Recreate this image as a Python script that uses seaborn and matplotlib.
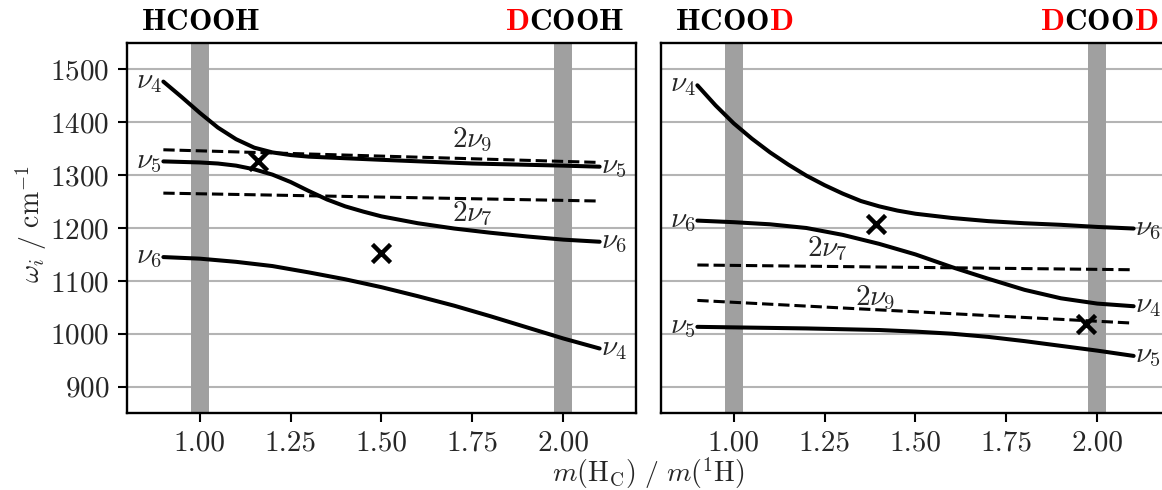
"""
Frequencies of the coupled modes in formic acid isotopologues
versus the mass of the C-bound hydrogen.
"""

import numpy as np
import pandas as pd
import seaborn as sns
import matplotlib

matplotlib.use("Agg")
import matplotlib.pyplot as plt

# ---- data ------------------------------------------------------------------
# left panel: HCOOH -> DCOOH
left_a_x = [0.90, 0.95, 1.00, 1.05, 1.10, 1.15, 1.20, 1.25, 1.30, 1.40, 1.50,
            1.75, 2.00, 2.10]
left_a_y = [1477, 1448, 1418, 1390, 1368, 1352, 1343, 1338, 1335, 1332, 1329,
            1322, 1318, 1316]
left_b_x = [0.90, 1.00, 1.05, 1.10, 1.15, 1.20, 1.25, 1.30, 1.35, 1.40, 1.45,
            1.50, 1.60, 1.70, 1.80, 1.90, 2.00, 2.10]
left_b_y = [1326, 1324, 1322, 1318, 1311, 1301, 1287, 1270, 1254, 1241, 1231,
            1222, 1209, 1199, 1191, 1184, 1178, 1174]
left_c_x = [0.90, 1.00, 1.10, 1.20, 1.30, 1.40, 1.50, 1.60, 1.70, 1.80, 1.90, 2.00, 2.10]
left_c_y = [1145, 1142, 1136, 1128, 1116, 1103, 1088, 1071, 1053, 1033, 1012, 991, 972]
left_dash_x = [0.90, 2.10]
left_2nu9 = [1348, 1324]
left_2nu7 = [1266, 1251]
left_cross_x = [1.16, 1.50]
left_cross_y = [1326, 1153]

# right panel: HCOOD -> DCOOD
right_a_x = [0.90, 0.95, 1.00, 1.05, 1.10, 1.15, 1.20, 1.25, 1.30, 1.35, 1.40,
             1.45, 1.50, 1.60, 1.70, 1.80, 1.90, 2.00, 2.10]
right_a_y = [1470, 1432, 1398, 1369, 1343, 1320, 1299, 1281, 1265, 1251, 1241,
             1233, 1227, 1219, 1213, 1209, 1206, 1202, 1199]
right_b_x = [0.90, 1.00, 1.10, 1.20, 1.30, 1.40, 1.50, 1.60, 1.70, 1.80, 1.90, 2.00, 2.10]
right_b_y = [1214, 1211, 1207, 1200, 1187, 1170, 1150, 1126, 1104, 1083, 1067, 1057, 1052]
right_c_x = [0.90, 1.00, 1.20, 1.40, 1.50, 1.60, 1.70, 1.80, 1.90, 2.00, 2.10]
right_c_y = [1013, 1012, 1010, 1007, 1004, 1000, 994, 986, 977, 968, 958]
right_dash_x = [0.90, 2.10]
right_2nu7 = [1130, 1121]
right_2nu9 = [1063, 1020]
right_cross_x = [1.39, 1.97]
right_cross_y = [1208, 1018]

y_ticks = [900, 1000, 1100, 1200, 1300, 1400, 1500]
x_ticks = [1.00, 1.25, 1.50, 1.75, 2.00]

FS_TICK = 21
FS_LAB = 20
FS_NU = 21
FS_TITLE = 22.5


def setup_axes(ax, show_y):
    ax.set_xlim(0.8, 2.2)
    ax.set_ylim(850, 1550)
    ax.set_xticks(x_ticks)
    ax.set_xticklabels([f"{t:.2f}" for t in x_ticks])
    ax.set_yticks(y_ticks)
    ax.grid(axis="y", color="#b4b4b4", lw=1.5, zorder=0)
    ax.grid(axis="x", visible=False)
    ax.set_axisbelow(True)
    for sp in ax.spines.values():
        sp.set_visible(True)
        sp.set_color("black")
        sp.set_linewidth(1.7)
    ax.tick_params(axis="both", direction="out", length=6.5, width=1.5,
                   labelsize=FS_TICK, pad=6, color="black")
    ax.tick_params(axis="x", bottom=True)
    if show_y:
        ax.tick_params(axis="y", left=True)
    else:
        ax.tick_params(axis="y", left=False, labelleft=False)
    ax.set_xlabel("")
    ax.set_ylabel("")
    # vertical bands at the pure isotopologues
    for c in (1.0, 2.0):
        ax.axvspan(c - 0.025, c + 0.025, color="#a0a0a0", lw=0, zorder=1)


def curve(ax, x, y, dashed=False):
    df = pd.DataFrame({"x": x, "y": y})
    sns.lineplot(data=df, x="x", y="y", ax=ax, color="black",
                 lw=2.2 if dashed else 2.9, ls="--" if dashed else "-",
                 estimator=None, sort=False, zorder=3)


def crosses(ax, x, y):
    sns.scatterplot(x=x, y=y, ax=ax, marker="x", s=170, color="black",
                    linewidth=3.2, zorder=4)


def title_parts(ax, parts, align):
    # parts: list of (text, colour); chained so colours can differ
    y0 = 1 + 7 / 370
    if align == "left":
        prev = ax.text(0.0275, y0, r"$\mathbf{%s}$" % parts[0][0], color=parts[0][1],
                       transform=ax.transAxes, ha="left", va="bottom",
                       fontsize=FS_TITLE)
        for txt, col in parts[1:]:
            prev = ax.annotate(r"$\mathbf{%s}$" % txt, xy=(1, 0), xycoords=prev,
                               ha="left", va="bottom", color=col, fontsize=FS_TITLE)
    else:
        rev = parts[::-1]
        prev = ax.text(0.976, y0, r"$\mathbf{%s}$" % rev[0][0], color=rev[0][1],
                       transform=ax.transAxes, ha="right", va="bottom",
                       fontsize=FS_TITLE)
        for txt, col in rev[1:]:
            prev = ax.annotate(r"$\mathbf{%s}$" % txt, xy=(0, 0), xycoords=prev,
                               ha="right", va="bottom", color=col, fontsize=FS_TITLE)


def main():
    sns.set_style("ticks")
    plt.rcParams["font.family"] = ["serif"]
    plt.rcParams["font.serif"] = ["cmr10", "DejaVu Serif"]
    plt.rcParams["mathtext.fontset"] = "cm"
    plt.rcParams["axes.unicode_minus"] = False
    plt.rcParams["axes.formatter.use_mathtext"] = True

    fig = plt.figure(figsize=(11.62, 4.9), dpi=100)
    ax1 = fig.add_axes([127 / 1162, 77 / 490, 509 / 1162, 370 / 490])
    ax2 = fig.add_axes([661 / 1162, 77 / 490, 509 / 1162, 370 / 490])

    # ---- left panel
    curve(ax1, left_a_x, left_a_y)
    curve(ax1, left_b_x, left_b_y)
    curve(ax1, left_c_x, left_c_y)
    curve(ax1, left_dash_x, left_2nu9, dashed=True)
    curve(ax1, left_dash_x, left_2nu7, dashed=True)
    crosses(ax1, left_cross_x, left_cross_y)
    setup_axes(ax1, True)

    for y, lab in zip([left_a_y[0], left_b_y[0], left_c_y[0]], ["4", "5", "6"]):
        ax1.text(0.895, y, r"$\nu_%s$" % lab, ha="right", va="center", fontsize=FS_NU)
    for y, lab in zip([left_a_y[-1], left_b_y[-1], left_c_y[-1]], ["5", "6", "4"]):
        ax1.text(2.105, y, r"$\nu_%s$" % lab, ha="left", va="center", fontsize=FS_NU)
    ax1.text(1.75, 1340, r"$2\nu_9$", ha="center", va="bottom", fontsize=FS_NU)
    ax1.text(1.75, 1226, r"$2\nu_7$", ha="center", va="center", fontsize=FS_NU)
    title_parts(ax1, [("HCOOH", "black")], "left")
    title_parts(ax1, [("D", "red"), ("COOH", "black")], "right")

    # ---- right panel
    curve(ax2, right_a_x, right_a_y)
    curve(ax2, right_b_x, right_b_y)
    curve(ax2, right_c_x, right_c_y)
    curve(ax2, right_dash_x, right_2nu7, dashed=True)
    curve(ax2, right_dash_x, right_2nu9, dashed=True)
    crosses(ax2, right_cross_x, right_cross_y)
    setup_axes(ax2, False)

    for y, lab in zip([right_a_y[0], right_b_y[0], right_c_y[0]], ["4", "6", "5"]):
        ax2.text(0.895, y, r"$\nu_%s$" % lab, ha="right", va="center", fontsize=FS_NU)
    for y, lab in zip([right_a_y[-1], right_b_y[-1], right_c_y[-1]], ["6", "4", "5"]):
        ax2.text(2.105, y, r"$\nu_%s$" % lab, ha="left", va="center", fontsize=FS_NU)
    ax2.text(1.257, 1160, r"$2\nu_7$", ha="center", va="center", fontsize=FS_NU)
    ax2.text(1.39, 1068, r"$2\nu_9$", ha="center", va="center", fontsize=FS_NU)
    title_parts(ax2, [("HCOO", "black"), ("D", "red")], "left")
    title_parts(ax2, [("D", "red"), ("COO", "black"), ("D", "red")], "right")

    fig.text(31 / 1162, 266 / 490, r"$\omega_i\ /\ \mathrm{cm}^{-1}$", rotation=90,
             ha="center", va="center", fontsize=FS_LAB)
    fig.text(648 / 1162, 17 / 490,
             r"$m(\mathrm{H_C})\ /\ m(^1\mathrm{H})$",
             ha="center", va="center", fontsize=FS_LAB)

    fig.savefig("out.png", dpi=100)


if __name__ == "__main__":
    main()
